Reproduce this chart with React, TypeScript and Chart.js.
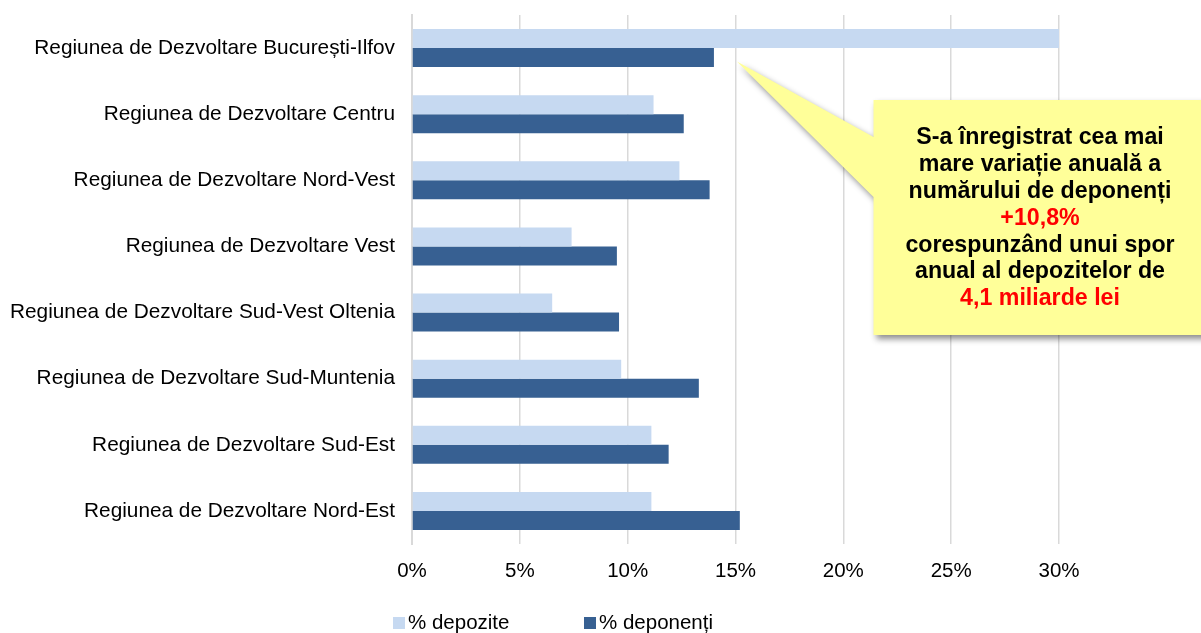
import React, { useEffect, useRef } from "react";
import { Chart, registerables } from "chart.js";

Chart.register(...registerables);

const categories = [
  "Regiunea de Dezvoltare București-Ilfov",
  "Regiunea de Dezvoltare Centru",
  "Regiunea de Dezvoltare Nord-Vest",
  "Regiunea de Dezvoltare Vest",
  "Regiunea de Dezvoltare Sud-Vest Oltenia",
  "Regiunea de Dezvoltare Sud-Muntenia",
  "Regiunea de Dezvoltare Sud-Est",
  "Regiunea de Dezvoltare Nord-Est",
];
const depozite = [30.1, 11.2, 12.4, 7.4, 6.5, 9.7, 11.1, 11.1];
const deponenti = [14.0, 12.6, 13.8, 9.5, 9.6, 13.3, 11.9, 15.2];
const seriesNames = ["% depozite", "% deponenți"];
const seriesColors = ["#c6d9f1", "#376092"];

const calloutLines: { text: string; color: string }[] = [
  { text: "S-a înregistrat cea mai", color: "#000000" },
  { text: "mare variație anuală a", color: "#000000" },
  { text: "numărului de deponenți", color: "#000000" },
  { text: "+10,8%", color: "#ff0000" },
  { text: "corespunzând unui spor", color: "#000000" },
  { text: "anual al depozitelor de", color: "#000000" },
  { text: "4,1 miliarde lei", color: "#ff0000" },
];

const FONT = "'Liberation Sans', Arial, sans-serif";

const overlayPlugin = {
  id: "overlay",
  afterDraw(chart: any) {
    const ctx = chart.ctx as CanvasRenderingContext2D;
    const x = chart.scales.x;
    const y = chart.scales.y;
    // callout anchored to the end of the deponenti bar of the first category
    const meta = chart.getDatasetMeta(1);
    const bar = meta.data[0];
    const tipX = bar.x + 23;
    const tipY = bar.y + 4;
    const boxL = x.getPixelForValue(21.4);
    const boxT = y.getPixelForValue(0) + 52;
    const boxR = chart.width + 10;
    const boxB = boxT + 235;
    ctx.save();
    ctx.beginPath();
    ctx.moveTo(boxL, boxT);
    ctx.lineTo(boxR, boxT);
    ctx.lineTo(boxR, boxB);
    ctx.lineTo(boxL, boxB);
    ctx.lineTo(boxL, boxT + 97);
    ctx.lineTo(tipX, tipY);
    ctx.lineTo(boxL, boxT + 37);
    ctx.closePath();
    ctx.shadowColor = "rgba(0,0,0,0.45)";
    ctx.shadowBlur = 6;
    ctx.shadowOffsetX = 3;
    ctx.shadowOffsetY = 4;
    ctx.fillStyle = "#ffff99";
    ctx.fill();
    ctx.restore();

    ctx.save();
    ctx.font = `bold 23.2px ${FONT}`;
    ctx.textAlign = "center";
    ctx.textBaseline = "middle";
    const cx = 1040;
    let ly = boxT + 38;
    for (const l of calloutLines) {
      ctx.fillStyle = l.color;
      ctx.fillText(l.text, cx, ly);
      ly += 26.8;
    }
    ctx.restore();

    // legend
    ctx.save();
    ctx.font = `20.5px ${FONT}`;
    ctx.textBaseline = "middle";
    ctx.textAlign = "left";
    const legY = 623;
    const legX = [393, 584];
    seriesNames.forEach((n, i) => {
      ctx.fillStyle = seriesColors[i];
      ctx.fillRect(legX[i], legY - 6, 12, 12);
      ctx.fillStyle = "#000";
      ctx.fillText(n, legX[i] + 15, legY);
    });
    ctx.restore();
  },
};

export default function App() {
  const ref = useRef<HTMLCanvasElement>(null);
  useEffect(() => {
    if (!ref.current) return;
    const chart = new Chart(ref.current, {
      type: "bar",
      data: {
        labels: categories,
        datasets: [
          {
            label: seriesNames[0],
            data: depozite,
            backgroundColor: seriesColors[0],
            categoryPercentage: 0.576,
            barPercentage: 1,
          },
          {
            label: seriesNames[1],
            data: deponenti,
            backgroundColor: seriesColors[1],
            categoryPercentage: 0.576,
            barPercentage: 1,
          },
        ],
      },
      options: {
        indexAxis: "y",
        animation: false,
        responsive: false,
        maintainAspectRatio: false,
        layout: { padding: { top: 15, right: 142, bottom: 0, left: 0 } },
        plugins: { legend: { display: false }, tooltip: { enabled: false } },
        scales: {
          x: {
            min: 0,
            max: 30,
            afterFit: (s: any) => {
              s.height = 89;
              s.paddingLeft = 0;
              s.paddingRight = 0;
            },
            ticks: {
              stepSize: 5,
              padding: 15,
              color: "#000",
              font: { family: FONT, size: 20.5 },
              callback: (v: any) => v + "%",
            },
            grid: { color: "#d9d9d9", lineWidth: 1.5, drawTicks: false },
            border: { display: false },
          },
          y: {
            afterFit: (s: any) => {
              s.width = 412;
              s.paddingTop = 0;
              s.paddingBottom = 0;
            },
            ticks: {
              padding: 17,
              color: "#000",
              font: { family: FONT, size: 20.8 },
            },
            grid: { display: false, drawTicks: false },
            border: { display: true, color: "#d9d9d9", width: 2 },
          },
        },
      },
      plugins: [overlayPlugin],
    });
    return () => chart.destroy();
  }, []);
  return (
    <div style={{ position: "fixed", left: 0, top: 0, width: 1201, height: 633, background: "#fff" }}>
      <canvas ref={ref} width={1201} height={633} style={{ width: 1201, height: 633, display: "block" }} />
    </div>
  );
}
